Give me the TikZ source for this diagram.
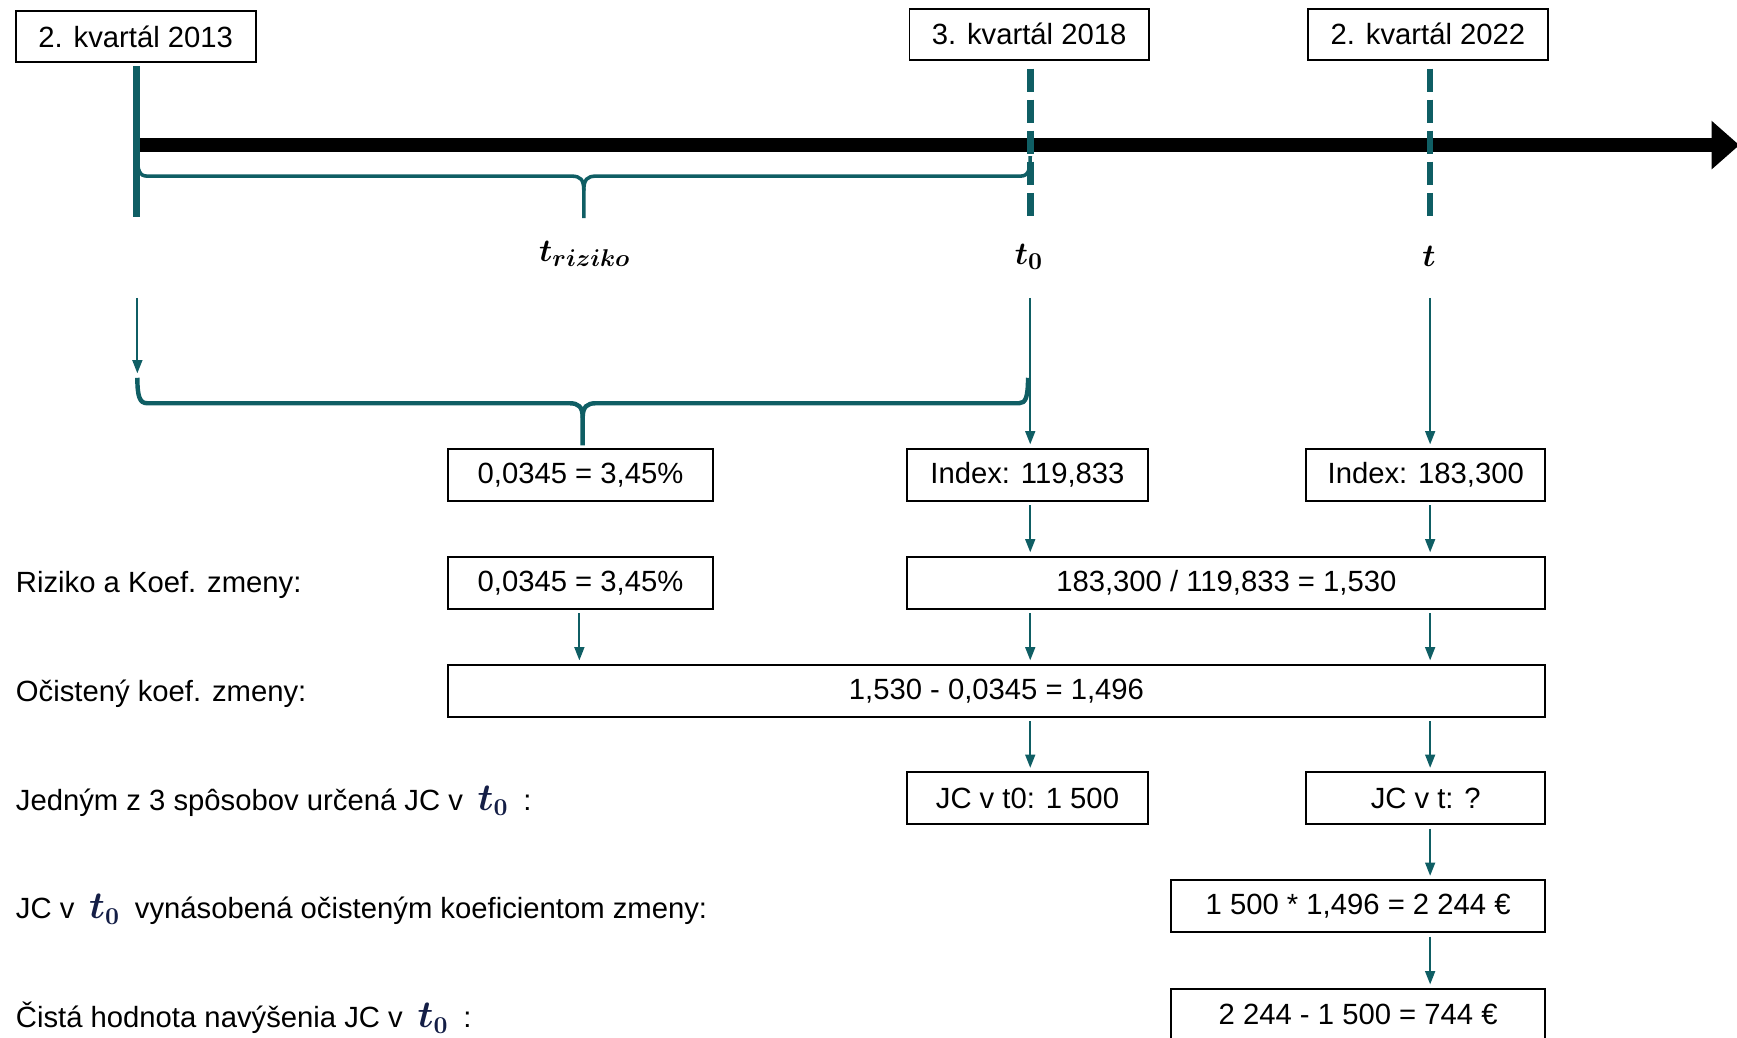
\documentclass[tikz,border=0pt]{standalone}
\usepackage{fontspec}
\setmainfont{Liberation Sans}
\usetikzlibrary{arrows.meta}
\definecolor{teal1}{RGB}{15,94,100}
\definecolor{navy1}{RGB}{20,30,70}
\newcommand\tnull{\hspace{3pt}{\color{navy1}\fontsize{16}{18}\selectfont\boldmath$t_0$}\hspace{3pt}}
\begin{document}
\begin{tikzpicture}[x=0.5pt,y=-0.5pt,font=\fontsize{13.2}{16}\selectfont,
  box/.style={draw=black,line width=0.9pt,minimum height=23.5pt,inner sep=0pt,fill=white},
  lbl/.style={anchor=west,inner sep=0pt},
  arr/.style={draw=teal1,line width=0.8pt,-{Triangle[length=6pt,width=4.5pt]},shorten <=1.5pt,shorten >=1.5pt},
  bracestyle/.style={draw=teal1,line width=1.6pt},
  tickstyle/.style={draw=teal1,line width=3pt},
  dtick/.style={tickstyle,dash pattern=on 10.5pt off 3.5pt},
  tlabel/.style={inner sep=0pt,font=\fontsize{15}{18}\selectfont\boldmath}]
\useasboundingbox (0,0) rectangle (1568,937);
\clip (0,0) rectangle (1568,937);
% top boxes
\node[box,minimum width=108.5pt,minimum height=23pt] (B1) at (122.5,33) {2. kvartál 2013};
\node[box,minimum width=108pt,minimum height=23pt] (B2) at (929,31) {3. kvartál 2018};
\node[box,minimum width=108pt,minimum height=23pt] (B3) at (1289,31) {2. kvartál 2022};
% timeline
\draw[line width=6pt] (123,131) -- (1546,131);
\fill (1545,109) -- (1570,131) -- (1545,153) -- cycle;
% ticks
\draw[tickstyle] (123,60) -- (123,196);
\draw[dtick] (930,62) -- (930,198);
\draw[dtick] (1291,62) -- (1291,198);
% top brace
\draw[bracestyle] (124,141) .. controls (124,154) and (126,159) .. (133,159) -- (516,159)
  .. controls (524,159) and (527,162) .. (527,172) -- (527,197);
\draw[bracestyle] (527,172) .. controls (527,162) and (530,159) .. (538,159) -- (921,159)
  .. controls (928,159) and (930,154) .. (930,141);
% t labels
\node[tlabel] (tr) at (528,229) {$t_{riziko}$};
\node[tlabel] (t0) at (929,232) {$t_0$};
\node[tlabel] (tt) at (1290,231) {$t$};
% row 1 boxes
\node[box,minimum width=120pt] (R1a) at (524,428.5) {0,0345 = 3,45\%};
\node[box,minimum width=108.5pt] (R1b) at (927.5,428.5) {Index: 119,833};
\node[box,minimum width=108pt] (R1c) at (1287,428.5) {Index: 183,300};
% bottom brace
\draw[bracestyle,line width=2pt] (124,341) .. controls (124,358) and (126,364) .. (133,364) -- (514,364)
  .. controls (522,364) and (526,367) .. (526,377) -- (526,402);
\draw[bracestyle,line width=2pt] (526,377) .. controls (526,367) and (530,364) .. (538,364) -- (920,364)
  .. controls (926,364) and (928,358) .. (928,341);
% arrows from axis
\coordinate (a0s) at (124,266);
\coordinate (a0e) at (124,337);
\coordinate (a1s) at (930,266);
\coordinate (a2s) at (1291,266);
\draw[arr,shorten >=0pt] (a0s) -- (a0e);
\draw[arr] (a1s) -- (a1s |- R1b.north);
\draw[arr] (a2s) -- (a2s |- R1c.north);
% row 2
\node[lbl] (L2) at (14,528) {Riziko a Koef. zmeny:};
\node[box,minimum width=120pt] (R2a) at (524,526) {0,0345 = 3,45\%};
\node[box,minimum width=288pt] (R2b) at (1107,526) {183,300 / 119,833 = 1,530};
\draw[arr] (a1s |- R1b.south) -- (a1s |- R2b.north);
\draw[arr] (a2s |- R1c.south) -- (a2s |- R2b.north);
% row 3
\node[lbl] (L3) at (14,626) {Očistený koef. zmeny:};
\node[box,minimum width=495.5pt] (R3) at (899.5,623.5) {1,530 - 0,0345 = 1,496};
\coordinate (a3s) at (523,550);
\draw[arr] (a3s |- R2a.south) -- (a3s |- R3.north);
\draw[arr] (a1s |- R2b.south) -- (a1s |- R3.north);
\draw[arr] (a2s |- R2b.south) -- (a2s |- R3.north);
% row 4
\node[lbl] (L4) at (14,723) {Jedným z 3 spôsobov určená JC v \tnull\ :};
\node[box,minimum width=108.5pt] (R4a) at (927.5,720.5) {JC v t0: 1 500};
\node[box,minimum width=108pt] (R4b) at (1287,720.5) {JC v t: ?};
\draw[arr] (a1s |- R3.south) -- (a1s |- R4a.north);
\draw[arr] (a2s |- R3.south) -- (a2s |- R4b.north);
% row 5
\node[lbl] (L5) at (14,821) {JC v \tnull\ vynásobená očisteným koeficientom zmeny:};
\node[box,minimum width=169pt] (R5) at (1226,818) {1 500 * 1,496 = 2 244 €};
\draw[arr] (a2s |- R4b.south) -- (a2s |- R5.north);
% row 6
\node[lbl] (L6) at (14,919) {Čistá hodnota navýšenia JC v \tnull\ :};
\node[box,minimum width=169pt] (R6) at (1226,916) {2 244 - 1 500 = 744 €};
\draw[arr] (a2s |- R5.south) -- (a2s |- R6.north);
\end{tikzpicture}
\end{document}
